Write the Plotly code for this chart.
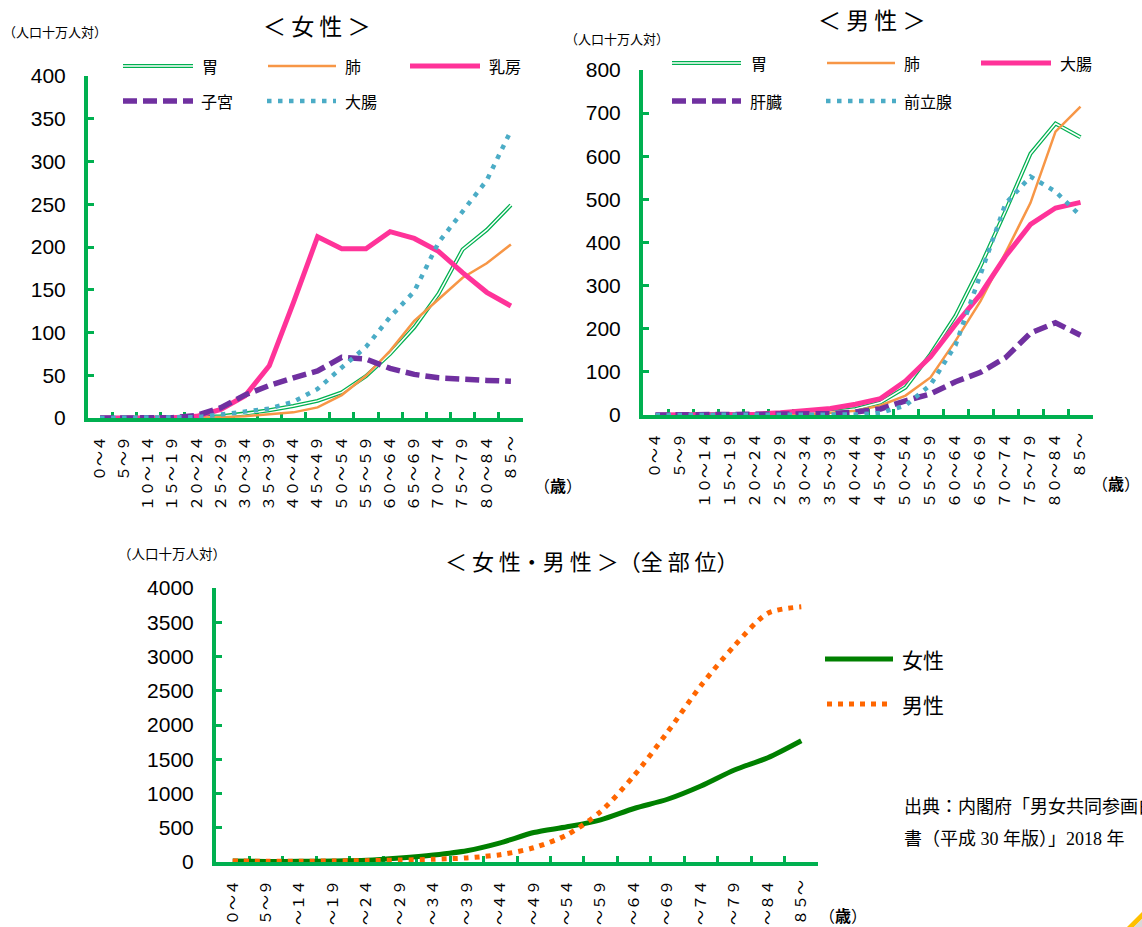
import plotly.graph_objects as go

W, H = 1142, 927

# ---- data (incidence per 100,000 population) ----
age_groups = ["０～４", "５～９", "１０～１４", "１５～１９", "２０～２４", "２５～２９",
              "３０～３４", "３５～３９", "４０～４４", "４５～４９", "５０～５４", "５５～５９",
              "６０～６４", "６５～６９", "７０～７４", "７５～７９", "８０～８４", "８５～"]

# female, by site
f_stomach = [0, 0, 0, 0.2, 0.5, 2, 5, 9, 14, 20, 30, 49, 75, 106, 145, 197, 220, 249]
f_lung    = [0, 0, 0, 0.1, 0.5, 1, 2, 4.5, 6.6, 12.4, 26.8, 49.4, 78.5, 113.5, 138.8, 164, 181, 203]
f_breast  = [0, 0, 0, 0.2, 2, 10, 26, 61, 135, 212, 198, 198, 218, 210, 195, 170, 147, 131]
f_uterus  = [0, 0, 0, 0.3, 3, 12, 27, 38, 47, 55, 71, 69, 58, 51, 47, 45, 44, 43]
f_colon   = [0, 0, 0, 0.3, 1, 4, 7, 11, 19, 34, 59, 83, 118, 148, 205, 241, 278, 336]

# male, by site
m_stomach  = [0, 0, 0, 0.3, 1, 2, 4, 7, 14, 29, 64, 141, 230, 345, 473, 606, 676, 644]
m_lung     = [0, 0, 0, 0.2, 0.5, 1, 2, 5, 10, 22, 45, 87, 172, 264, 376, 492, 657, 715]
m_colon    = [0, 0, 0, 1, 2, 5, 9, 15, 25, 38, 79, 135, 210, 280, 368, 442, 480, 493]
m_liver    = [0, 0, 0, 0.2, 0.5, 1, 1.5, 3, 7, 14, 33, 49, 77, 99, 133, 190, 214, 185]
m_prostate = [0, 0, 0, 0, 0, 0, 0, 0.2, 1, 5, 22, 70, 162, 326, 490, 553, 518, 462]

# all sites
all_female = [15, 9, 10, 14, 25, 58, 102, 165, 280, 430, 514, 616, 781, 916, 1110, 1343, 1522, 1770]
all_male   = [16, 10, 11, 15, 20, 28, 40, 60, 107, 208, 398, 737, 1261, 1896, 2575, 3156, 3631, 3725]

# ---- styling ----
AXIS_GREEN = "#00B050"
C_STOMACH = "#00B050"
C_LUNG = "#F79646"
C_PINK = "#FF3399"
C_PURPLE = "#7030A0"
C_CYAN = "#4BACC6"
C_FEMALE = "#008000"
C_MALE = "#FF6600"

JP = "Noto Sans CJK JP"
NUM = "Liberation Sans, Arial, sans-serif"

ST_STOMACH_OUT = dict(color=C_STOMACH, width=4)
ST_STOMACH_IN = dict(color="white", width=1.5)
ST_LUNG = dict(color=C_LUNG, width=2.5)
ST_PINK = dict(color=C_PINK, width=5)
ST_PURPLE = dict(color=C_PURPLE, width=5.5, dash="14px,6px")
ST_CYAN = dict(color=C_CYAN, width=4.5, dash="4.5px,6.5px")
ST_FEMALE = dict(color=C_FEMALE, width=5, shape="spline", smoothing=0.8)
ST_MALE = dict(color=C_MALE, width=5, dash="5px,6px", shape="spline", smoothing=0.8)


def px_x(p):
    return p / W


def px_y(p):
    return 1 - p / H


fig = go.Figure()


def add_line(y, style, xa, ya):
    fig.add_trace(go.Scatter(x=age_groups, y=y, mode="lines", line=style,
                             xaxis=xa, yaxis=ya, hoverinfo="skip"))


# female chart
add_line(f_stomach, ST_STOMACH_OUT, "x", "y")
add_line(f_stomach, ST_STOMACH_IN, "x", "y")
add_line(f_lung, ST_LUNG, "x", "y")
add_line(f_breast, ST_PINK, "x", "y")
add_line(f_uterus, ST_PURPLE, "x", "y")
add_line(f_colon, ST_CYAN, "x", "y")

# male chart
add_line(m_stomach, ST_STOMACH_OUT, "x2", "y2")
add_line(m_stomach, ST_STOMACH_IN, "x2", "y2")
add_line(m_lung, ST_LUNG, "x2", "y2")
add_line(m_colon, ST_PINK, "x2", "y2")
add_line(m_liver, ST_PURPLE, "x2", "y2")
add_line(m_prostate, ST_CYAN, "x2", "y2")

# all-sites chart
add_line(all_female, ST_FEMALE, "x3", "y3")
add_line(all_male, ST_MALE, "x3", "y3")


def xaxis_style(x0, x1, anchor):
    return dict(domain=[px_x(x0), px_x(x1)], anchor=anchor, type="category",
                range=[-0.5, 17.5], tickson="boundaries", ticks="inside",
                ticklen=6, tickwidth=3, tickcolor=AXIS_GREEN, showline=True,
                linecolor=AXIS_GREEN, linewidth=4, showgrid=False, zeroline=False,
                tickangle=-90, tickfont=dict(family=JP, size=15, color="black"),
                ticklabelstandoff=8, layer="below traces", fixedrange=True,
                automargin=False)


def yaxis_style(top, bottom, ymax, dtick, anchor, size=21):
    return dict(domain=[px_y(bottom), px_y(top)], anchor=anchor, range=[0, ymax],
                dtick=dtick, ticks="inside", ticklen=6, tickwidth=3,
                tickcolor=AXIS_GREEN, showline=True, linecolor=AXIS_GREEN,
                linewidth=4, showgrid=False, zeroline=False,
                tickfont=dict(family=NUM, size=size, color="black"),
                ticklabelstandoff=14, layer="below traces", fixedrange=True,
                automargin=False)


shapes = []
annotations = []


def text(x, y, s, size, xanchor="left", family=JP):
    annotations.append(dict(xref="paper", yref="paper", x=px_x(x), y=px_y(y), text=s,
                            showarrow=False, xanchor=xanchor, yanchor="middle",
                            font=dict(family=family, size=size, color="black")))


def key(x0, x1, y, style):
    line = dict(color=style["color"], width=style["width"])
    if "dash" in style:
        line["dash"] = style["dash"]
    shapes.append(dict(type="line", xref="paper", yref="paper", x0=px_x(x0), x1=px_x(x1),
                       y0=px_y(y), y1=px_y(y), line=line))


# titles and axis captions
text(316, 25, "＜ 女 性 ＞", 23, "center")
text(871, 19, "＜ 男 性 ＞", 23, "center")
text(592, 560, "＜ 女 性・男 性 ＞（全 部 位）", 22, "center")
text(1, 32, "（人口十万人対）", 13)
text(563, 38, "（人口十万人対）", 13)
text(116, 553, "（人口十万人対）", 13.5)
text(532, 485, "（<b>歳</b>）", 16)
text(1090, 483, "（<b>歳</b>）", 16)
text(817, 915, "（<b>歳</b>）", 16)

# legend: female chart
for (x0, x1, y, st, label, tx) in [
    (123, 193, 66, None, "胃", 200),
    (268, 336, 66, ST_LUNG, "肺", 343),
    (410, 480, 66, ST_PINK, "乳房", 487),
    (123, 193, 101, ST_PURPLE, "子宮", 199),
    (267, 336, 101, ST_CYAN, "大腸", 343),
]:
    if st is None:
        key(x0, x1, y, ST_STOMACH_OUT)
        key(x0, x1, y, ST_STOMACH_IN)
    else:
        key(x0, x1, y, st)
    text(tx, y, label, 16)

# legend: male chart
for (x0, x1, y, st, label, tx) in [
    (672, 741, 63, None, "胃", 749),
    (827, 895, 63, ST_LUNG, "肺", 902),
    (981, 1051, 63, ST_PINK, "大腸", 1058),
    (672, 741, 101, ST_PURPLE, "肝臓", 748),
    (826, 896, 101, ST_CYAN, "前立腺", 902),
]:
    if st is None:
        key(x0, x1, y, ST_STOMACH_OUT)
        key(x0, x1, y, ST_STOMACH_IN)
    else:
        key(x0, x1, y, st)
    text(tx, y, label, 16)

# legend: all-sites chart
key(825, 893, 659, dict(color=C_FEMALE, width=5))
text(900, 659, "女性", 21)
key(827, 893, 704, dict(color=C_MALE, width=5, dash="5px,6px"))
text(900, 704, "男性", 21)

# source note
SRC = "Liberation Serif, " + JP
text(902, 807, "出典：内閣府「男女共同参画白", 18, family=SRC)
text(902, 839, "書（平成 30 年版）」2018 年", 18, family=SRC)

# page-corner accent
shapes.append(dict(type="path", xref="paper", yref="paper",
                   path=f"M {px_x(1127)},{px_y(927)} L {px_x(1142)},{px_y(912)} "
                        f"L {px_x(1142)},{px_y(919)} L {px_x(1134)},{px_y(927)} Z",
                   fillcolor="#FFC000", line=dict(width=0)))
shapes.append(dict(type="path", xref="paper", yref="paper",
                   path=f"M {px_x(1134)},{px_y(927)} L {px_x(1142)},{px_y(919)} "
                        f"L {px_x(1142)},{px_y(927)} Z",
                   fillcolor="#D9D9D9", line=dict(width=0)))

fig.update_layout(
    width=W, height=H, autosize=False,
    margin=dict(l=0, r=0, t=0, b=0, autoexpand=False),
    paper_bgcolor="white", plot_bgcolor="white",
    showlegend=False,
    xaxis=xaxis_style(88, 523, "y"),
    yaxis=yaxis_style(76, 418, 400, 50, "x"),
    xaxis2=xaxis_style(643, 1093, "y2"),
    yaxis2=yaxis_style(70, 415, 800, 100, "x2"),
    xaxis3=xaxis_style(216, 818, "y3"),
    yaxis3=yaxis_style(588, 862, 4000, 500, "x3", size=21),
    shapes=shapes,
    annotations=annotations,
)

fig.write_html("out.html")
